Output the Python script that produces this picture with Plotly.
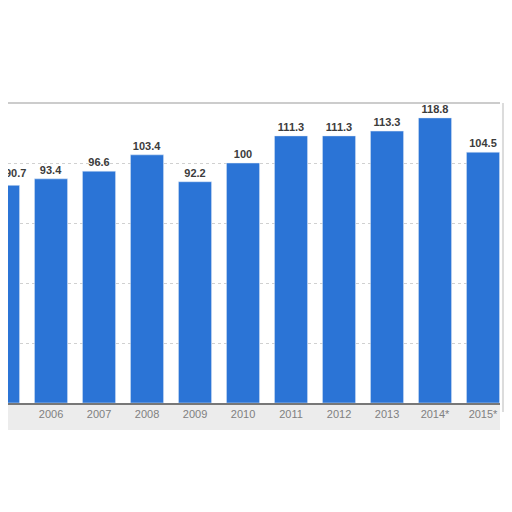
import plotly.graph_objects as go

# datos
years = ["2005", "2006", "2007", "2008", "2009", "2010", "2011", "2012", "2013", "2014*", "2015*"]
values = [90.7, 93.4, 96.6, 103.4, 92.2, 100, 111.3, 111.3, 113.3, 118.8, 104.5]

fig = go.Figure(go.Bar(
    x=years,
    y=values,
    marker_color="#2b74d6",
    width=0.69,
    text=[f"{v:g}" for v in values],
    textposition="outside",
    textfont=dict(family="Arial", size=11, color="#3c3c3c", weight="bold"),
    cliponaxis=False,
))

# la etiqueta de 2005 queda fuera del rango visible (recortada por el borde), se añade aparte
fig.add_annotation(xref="paper", x=0, xshift=-5, y=values[0], text=f"{values[0]:g}",
                   showarrow=False, yanchor="bottom", yshift=4,
                   font=dict(family="Arial", size=11, color="#3c3c3c", weight="bold"))

# sombra gris bajo el eje y en el borde derecho (foto recortada)
fig.add_shape(type="rect", xref="paper", yref="paper", x0=-0.02, x1=1.0, y0=-0.09, y1=0,
              fillcolor="#ececec", line_width=0, layer="below")
fig.add_shape(type="rect", xref="paper", yref="paper", x0=1.004, x1=1.03, y0=-0.03, y1=1.0,
              fillcolor="#dcdcdc", line_width=0, layer="below")
fig.add_shape(type="line", xref="paper", yref="paper", x0=-0.02, x1=1.0, y0=1, y1=1,
              line=dict(color="#bbbbbb", width=1.5))

fig.update_layout(
    width=512, height=512,
    margin=dict(l=0, r=20, t=95, b=117),
    paper_bgcolor="white",
    plot_bgcolor="white",
    showlegend=False,
    font=dict(family="Arial"),
    xaxis=dict(
        range=[0.104, 10.354],
        automargin=False,
        showline=True, linecolor="#777777", linewidth=1.5,
        tickfont=dict(size=11, color="#808080"),
        ticks="",
    ),
    yaxis=dict(
        range=[0, 125],
        dtick=25,
        automargin=False,
        showticklabels=False,
        showgrid=True, gridcolor="#d0d0d0", griddash="dot", gridwidth=1,
        zeroline=False,
    ),
)

fig.write_html("out.html")
